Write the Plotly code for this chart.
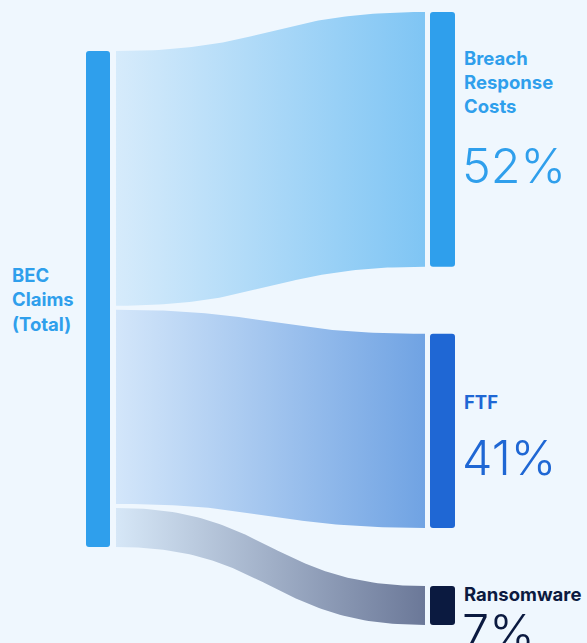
import numpy as np
import plotly.graph_objects as go

# ---- data ----
source_label = ["BEC", "Claims", "(Total)"]
target_names = [["Breach", "Response", "Costs"], ["FTF"], ["Ransomware"]]
pct_labels = ["52%", "41%", "7%"]
flow_values = [52.2, 39.8, 8.0]   # band widths

# ---- styles ----
BG = "#EFF7FE"
SRC_COLOR = "#2F9FEC"
TGT_COLORS = ["#2F9FEC", "#1F67D4", "#0B1A40"]
LINK_LEFT = ["#D6EBFB", "#D3E6FA", "#D6E7F7"]
LINK_RIGHT = ["#7FC5F4", "#70A3E3", "#6B7898"]
FONT = "Inter, Roboto, sans-serif"

W, H = 587, 643
SRC_X0, SRC_X1 = 86, 110
TGT_X0, TGT_X1 = 430, 455
LINK_X0, LINK_X1 = 116, 425
SRC_TOP, SRC_BOT = 51, 547
SRC_GAP = 4
TGT_TOP = 12
TGT_GAPS = [67, 58]

total = sum(flow_values)
k = (SRC_BOT - SRC_TOP - SRC_GAP * (len(flow_values) - 1)) / total

# source band positions
src_bands = []
y = SRC_TOP
for v in flow_values:
    src_bands.append((y, y + v * k))
    y += v * k + SRC_GAP

# target node positions
tgt_bands = []
y = TGT_TOP
for i, v in enumerate(flow_values):
    tgt_bands.append((y, y + v * k))
    if i < len(TGT_GAPS):
        y += v * k + TGT_GAPS[i]


def bezier(y0, y1, n=80):
    t = np.linspace(0, 1, n)
    xm = (LINK_X0 + LINK_X1) / 2
    x = (1 - t) ** 3 * LINK_X0 + 3 * (1 - t) ** 2 * t * xm + 3 * (1 - t) * t ** 2 * xm + t ** 3 * LINK_X1
    yy = (1 - t) ** 3 * y0 + 3 * (1 - t) ** 2 * t * y0 + 3 * (1 - t) * t ** 2 * y1 + t ** 3 * y1
    return x, yy


fig = go.Figure()

for i in range(len(flow_values)):
    (s0, s1), (t0, t1) = src_bands[i], tgt_bands[i]
    xt, yt = bezier(s0, t0)
    xb, yb = bezier(s1, t1)
    xs = np.concatenate([xt, xb[::-1], xt[:1]])
    ys = np.concatenate([yt, yb[::-1], yt[:1]])
    fig.add_trace(go.Scatter(
        x=xs, y=ys, mode="lines", fill="toself",
        line=dict(width=0, color="rgba(0,0,0,0)"),
        fillgradient=dict(type="horizontal",
                          colorscale=[[0, LINK_LEFT[i]], [1, LINK_RIGHT[i]]]),
        hoverinfo="skip", showlegend=False,
    ))


def rrect(x0, y0, x1, y1, r=3):
    return (f"M{x0+r},{y0} L{x1-r},{y0} Q{x1},{y0} {x1},{y0+r} "
            f"L{x1},{y1-r} Q{x1},{y1} {x1-r},{y1} L{x0+r},{y1} "
            f"Q{x0},{y1} {x0},{y1-r} L{x0},{y0+r} Q{x0},{y0} {x0+r},{y0} Z")


shapes = [dict(type="path", path=rrect(SRC_X0, SRC_TOP, SRC_X1, SRC_BOT),
               fillcolor=SRC_COLOR, line=dict(width=0), xref="x", yref="y")]
for i, (t0, t1) in enumerate(tgt_bands):
    shapes.append(dict(type="path", path=rrect(TGT_X0, t0, TGT_X1, t1),
                       fillcolor=TGT_COLORS[i], line=dict(width=0), xref="x", yref="y"))

ann = []
LINE = 24.5
FS = 18.5
# source label
mid = (SRC_TOP + SRC_BOT) / 2
for j, line in enumerate(source_label):
    ann.append(dict(x=10, y=mid + (j - 1) * LINE, text=line, xanchor="left", yanchor="middle",
                    showarrow=False, font=dict(family=FONT, size=FS, color=SRC_COLOR, weight=700)))

name_y = [[58, 82, 106], [402], [594]]
pct_y = [165, 457, 631]
for i in range(len(target_names)):
    for j, line in enumerate(target_names[i]):
        ann.append(dict(x=462, y=name_y[i][j], text=line, xanchor="left", yanchor="middle",
                        showarrow=False, font=dict(family=FONT, size=FS, color=TGT_COLORS[i], weight=700)))
    ann.append(dict(x=460, y=pct_y[i], text=pct_labels[i], xanchor="left", yanchor="middle",
                    showarrow=False, font=dict(family=FONT, size=48.5, color=TGT_COLORS[i], weight=300)))

fig.update_layout(
    width=W, height=H, margin=dict(l=0, r=0, t=0, b=0),
    paper_bgcolor=BG, plot_bgcolor=BG,
    xaxis=dict(range=[0, W], visible=False, fixedrange=True),
    yaxis=dict(range=[H, 0], visible=False, fixedrange=True),
    shapes=shapes, annotations=ann, showlegend=False,
)

fig.write_html("out.html", config={"displayModeBar": False},
               post_script="document.body.style.margin='0';document.body.style.padding='0';"
                           "document.body.style.overflow='hidden';document.body.style.background='" + BG + "';")
